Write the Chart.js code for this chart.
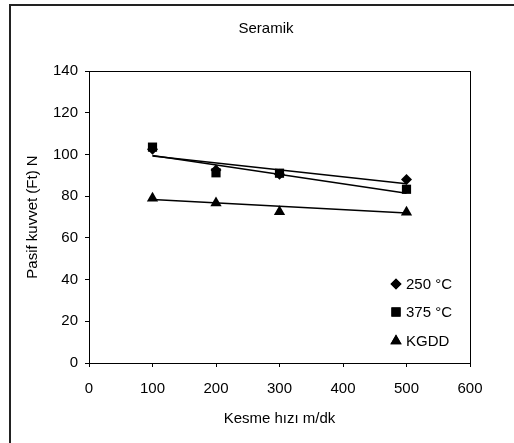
<!DOCTYPE html>
<html lang="tr">

<head>
  <meta charset="UTF-8" />
  <title>Seramik</title>
  <style>
    body { margin: 0; background: #fff; }
  </style>
</head>

<body>
  <canvas id="chart" width="514" height="443"></canvas>

  <script src="https://cdn.jsdelivr.net/npm/chart.js@4/dist/chart.umd.min.js"></script>
  <script>
    // veriler
    var hiz = [100, 200, 300, 500];
    var seri250 = [102.5, 92.5, 90.5, 88];
    var seri375 = [103.5, 91.2, 91, 83.3];
    var seriKGDD = [79, 76.7, 72.5, 72.3];
    // trend çizgilerinin uç noktaları
    var trendX = [100, 500];
    var trend250 = [99.2, 85.9];
    var trend375 = [99.5, 81.4];
    var trendKGDD = [78.4, 71.9];
    var xTicks = [0, 100, 200, 300, 400, 500, 600];
    var yTicks = [0, 20, 40, 60, 80, 100, 120, 140];

    var fontName = "'Liberation Sans', Arial, sans-serif";
    var fontSize = 15;

    function points(xs, ys) {
      return xs.map(function (x, i) { return { x: x, y: ys[i] }; });
    }

    function markerSet(label, ys, style, r) {
      return {
        label: label,
        data: points(hiz, ys),
        showLine: false,
        pointStyle: style,
        pointRadius: r,
        backgroundColor: "#000",
        borderColor: "#000",
        borderWidth: 0,
        legendItem: true,
      };
    }

    function trendSet(ys) {
      return {
        data: points(trendX, ys),
        showLine: true,
        pointRadius: 0,
        borderColor: "#000",
        borderWidth: 1.5,
        fill: false,
      };
    }

    // çerçeve, başlık, kutu ve lejant
    var extras = {
      id: "extras",
      beforeDraw: function (chart) {
        var ctx = chart.ctx;
        ctx.save();
        ctx.fillStyle = "#fff";
        ctx.fillRect(0, 0, chart.width, chart.height);
        ctx.strokeStyle = "#222";
        ctx.lineWidth = 2;
        ctx.strokeRect(10, 5, 700, 700);
        ctx.restore();
      },
      afterDraw: function (chart) {
        var ctx = chart.ctx;
        var a = chart.chartArea;
        ctx.save();
        ctx.strokeStyle = "#000";
        ctx.lineWidth = 1;
        ctx.strokeRect(Math.round(a.left) + 0.5, Math.round(a.top) + 0.5,
          Math.round(a.right - a.left), Math.round(a.bottom - a.top));

        ctx.fillStyle = "#000";
        ctx.font = fontSize + "px " + fontName;
        ctx.textAlign = "center";
        ctx.textBaseline = "middle";
        ctx.fillText("Seramik", 266, 29);

        var ly = [284, 312, 341];
        var n = 0;
        chart.data.datasets.forEach(function (ds) {
          if (!ds.legendItem) return;
          Chart.helpers.drawPoint(ctx, {
            pointStyle: ds.pointStyle,
            radius: ds.pointRadius,
            borderWidth: 0,
          }, 396, ly[n]);
          ctx.fill();
          ctx.textAlign = "left";
          ctx.fillText(ds.label, 406, ly[n] + 1);
          n++;
        });
        ctx.restore();
      },
    };

    var ctx = document.getElementById("chart").getContext("2d");
    var myChart = new Chart(ctx, {
      type: "scatter",
      data: {
        datasets: [
          markerSet("250 °C", seri250, "rectRot", 5.5),
          markerSet("375 °C", seri375, "rect", 6.5),
          markerSet("KGDD", seriKGDD, "triangle", 6.5),
          trendSet(trend250),
          trendSet(trend375),
          trendSet(trendKGDD),
        ],
      },
      options: {
        responsive: false,
        animation: false,
        layout: {
          padding: { top: 71, right: 44, left: 0, bottom: 0 },
        },
        plugins: {
          legend: { display: false },
          title: { display: false },
          tooltip: { enabled: false },
        },
        scales: {
          x: {
            type: "linear",
            min: 0,
            max: 600,
            afterBuildTicks: function (s) {
              s.ticks = xTicks.map(function (v) { return { value: v }; });
            },
            afterFit: function (s) { s.height = 80; },
            grid: { drawOnChartArea: false, tickLength: 4, color: "#000" },
            border: { color: "#000", width: 1 },
            ticks: {
              color: "#000",
              font: { family: fontName, size: fontSize },
              padding: 13,
              maxRotation: 0,
            },
            title: {
              display: true,
              text: "Kesme hızı m/dk",
              color: "#000",
              font: { family: fontName, size: fontSize },
              padding: { bottom: 15 },
            },
          },
          y: {
            min: 0,
            max: 140,
            afterBuildTicks: function (s) {
              s.ticks = yTicks.map(function (v) { return { value: v }; });
            },
            afterFit: function (s) { s.width = 89; },
            grid: { drawOnChartArea: false, tickLength: 4, color: "#000" },
            border: { color: "#000", width: 1 },
            ticks: {
              color: "#000",
              font: { family: fontName, size: fontSize },
              padding: 7,
            },
            title: {
              display: true,
              text: "Pasif kuvvet (Ft) N",
              color: "#000",
              font: { family: fontName, size: fontSize },
              padding: { top: 24 },
            },
          },
        },
      },
      plugins: [extras],
    });
  </script>
</body>

</html>
